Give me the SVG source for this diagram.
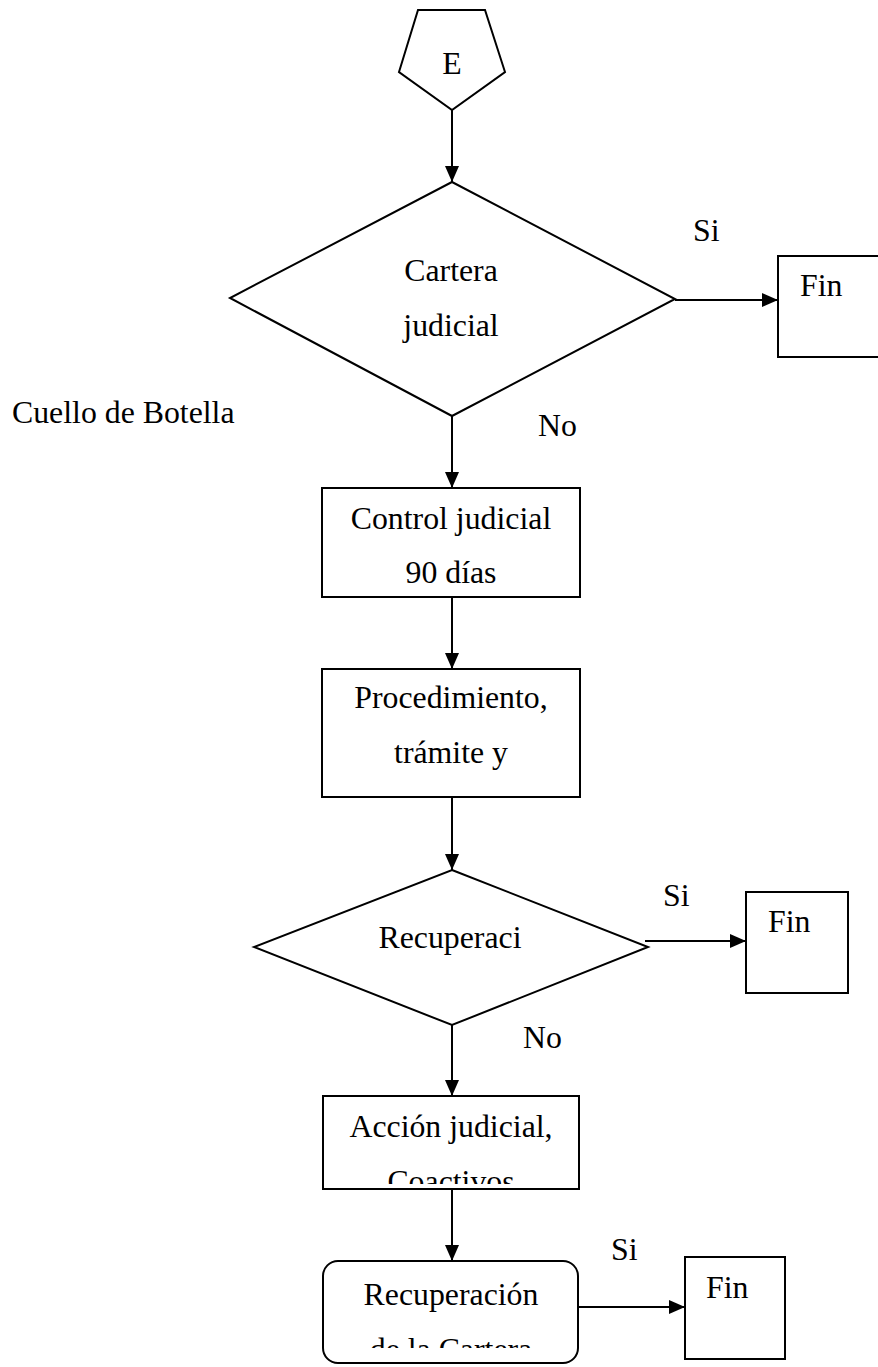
<svg xmlns="http://www.w3.org/2000/svg" width="878" height="1367" viewBox="0 0 878 1367">
  <style>
    .shape { fill: #ffffff; stroke: #000000; stroke-width: 2; }
    .line { fill: none; stroke: #000000; stroke-width: 2; }
    .t { font-family: "Liberation Serif", "Times New Roman", serif; font-size: 31.8px; fill: #000000; }
    .c { text-anchor: middle; }
  </style>
  <defs>
    <marker id="arrow" viewBox="0 0 16 14" refX="16" refY="7" markerWidth="16" markerHeight="14" markerUnits="userSpaceOnUse" orient="auto">
      <path d="M0,0 L16,7 L0,14 Z" fill="#000000"/>
    </marker>
    <clipPath id="clipAccion"><rect x="323" y="1096" width="256" height="88"/></clipPath>
    <clipPath id="clipRecup"><rect x="323" y="1261" width="255" height="87"/></clipPath>
  </defs>

  <!-- connectors -->
  <g id="connectors">
    <line class="line" x1="452" y1="110" x2="452" y2="182" marker-end="url(#arrow)"/>
    <line class="line" x1="675" y1="300" x2="778" y2="300" marker-end="url(#arrow)"/>
    <line class="line" x1="452" y1="416" x2="452" y2="488" marker-end="url(#arrow)"/>
    <line class="line" x1="452" y1="597" x2="452" y2="669" marker-end="url(#arrow)"/>
    <line class="line" x1="452" y1="797" x2="452" y2="870" marker-end="url(#arrow)"/>
    <line class="line" x1="645" y1="941" x2="746" y2="941" marker-end="url(#arrow)"/>
    <line class="line" x1="452" y1="1025" x2="452" y2="1096" marker-end="url(#arrow)"/>
    <line class="line" x1="452" y1="1189" x2="452" y2="1261" marker-end="url(#arrow)"/>
    <line class="line" x1="578" y1="1307" x2="685" y2="1307" marker-end="url(#arrow)"/>
  </g>

  <!-- entry connector (off-page) -->
  <g id="entry">
    <polygon class="shape" points="418,10 485,10 505,72 452,110 399,72"/>
    <text class="t c" x="452" y="74">E</text>
  </g>

  <!-- first decision -->
  <g id="decision-cartera">
    <polygon class="shape" points="452,182 675,299 452,416 230,298"/>
    <text class="t c" x="451" y="281">Cartera</text>
    <text class="t c" x="451" y="336">judicial</text>
  </g>

  <g id="fin-1">
    <rect class="shape" x="778" y="256" width="110" height="101"/>
    <text class="t" x="800" y="296">Fin</text>
  </g>

  <g id="label-si-1"><text class="t" x="693" y="241">Si</text></g>
  <g id="label-no-1"><text class="t" x="538" y="436">No</text></g>
  <g id="label-cuello"><text class="t" x="12" y="423">Cuello de Botella</text></g>

  <g id="control-judicial">
    <rect class="shape" x="322" y="488" width="258" height="109"/>
    <text class="t c" x="451" y="529">Control judicial</text>
    <text class="t c" x="451" y="583">90 días</text>
  </g>

  <g id="procedimiento">
    <rect class="shape" x="322" y="669" width="258" height="128"/>
    <text class="t c" x="451" y="708">Procedimiento,</text>
    <text class="t c" x="451" y="763">trámite y</text>
  </g>

  <!-- second decision -->
  <g id="decision-recuperacion">
    <polygon class="shape" points="452,870 648,947 452,1025 254,947"/>
    <text class="t c" x="450" y="948">Recuperaci</text>
  </g>

  <g id="fin-2">
    <rect class="shape" x="746" y="892" width="102" height="101"/>
    <text class="t" x="768" y="932">Fin</text>
  </g>

  <g id="label-si-2"><text class="t" x="663" y="906">Si</text></g>
  <g id="label-no-2"><text class="t" x="523" y="1048">No</text></g>

  <g id="accion-judicial">
    <rect class="shape" x="323" y="1096" width="256" height="93"/>
    <g clip-path="url(#clipAccion)">
      <text class="t c" x="451" y="1137">Acción judicial,</text>
      <text class="t c" x="451" y="1192">Coactivos</text>
    </g>
  </g>

  <g id="recuperacion-cartera">
    <rect class="shape" x="323" y="1261" width="255" height="102" rx="15" ry="15"/>
    <g clip-path="url(#clipRecup)">
      <text class="t c" x="451" y="1305">Recuperación</text>
      <text class="t c" x="451" y="1360">de la Cartera</text>
    </g>
  </g>

  <g id="label-si-3"><text class="t" x="611" y="1260">Si</text></g>

  <g id="fin-3">
    <rect class="shape" x="685" y="1257" width="100" height="102"/>
    <text class="t" x="706" y="1298">Fin</text>
  </g>
</svg>
